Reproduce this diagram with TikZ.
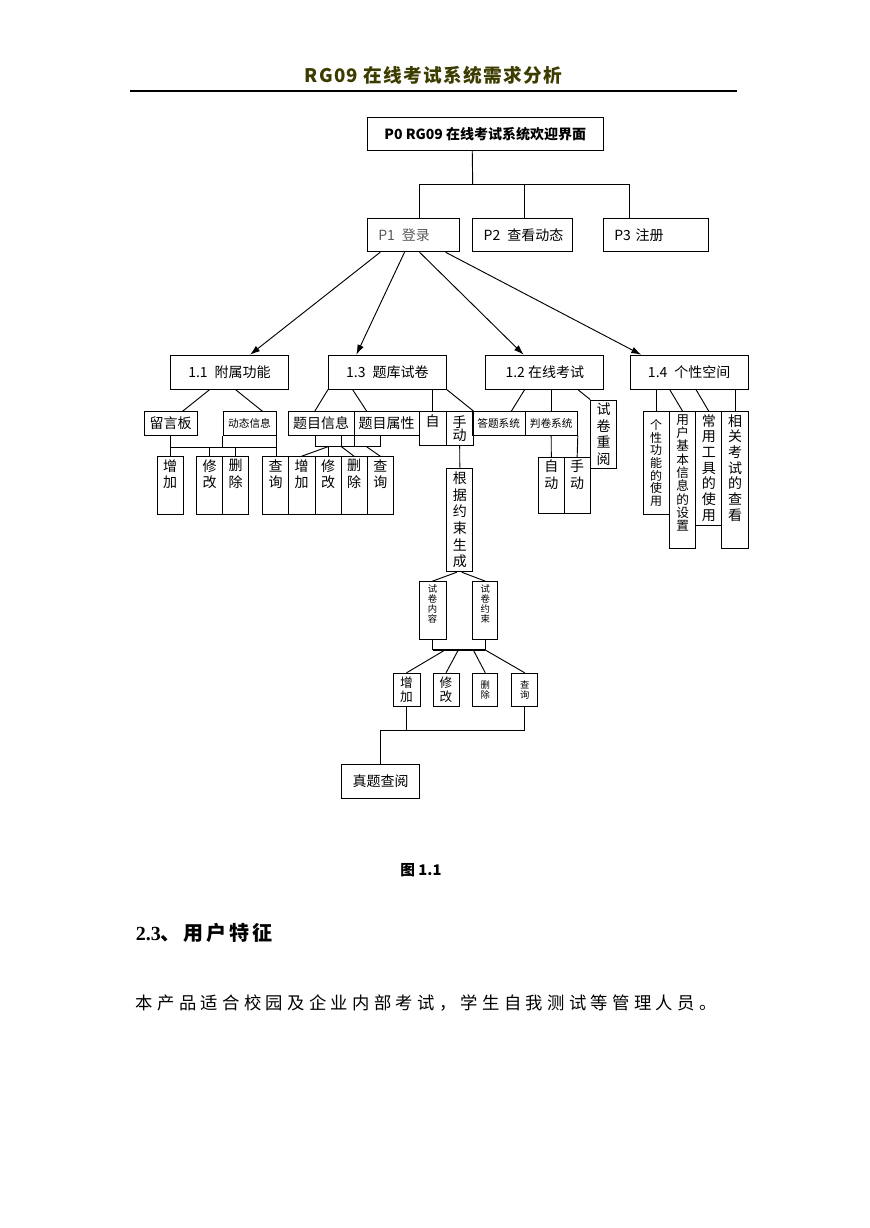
\documentclass[tikz,border=0pt]{standalone}
\usepackage{fontspec}
\setmainfont{Noto Sans CJK SC}
\newfontfamily\serifbf{Liberation Serif}
\usetikzlibrary{arrows.meta,calc}
\definecolor{titleolive}{RGB}{60,60,0}
\newcommand{\topcol}[2]{\parbox[c][#1][t]{1.2em}{\centering\vspace*{2pt}#2}}

\begin{document}
\begin{tikzpicture}[x=0.75pt,y=-0.75pt,line width=0.7pt,
    sz/.style 2 args={minimum width=#1*0.75pt,minimum height=#2*0.75pt},
    lefttxt/.style={text width=#1*0.75pt,align=left},
    smalltxt/.style={font=\fontsize{8}{9}\selectfont},
    tinytxt/.style={font=\fontsize{7}{7.5}\selectfont},
    midtxt/.style={font=\fontsize{9.5}{10.5}\selectfont},
    arr/.style={-{Latex[length=7.5pt,width=5pt]}}]
\useasboundingbox (0,0) rectangle (869,1228);

\node[font=\bfseries\fontsize{14}{16}\selectfont\addfontfeatures{LetterSpace=7},text=titleolive] (title) at (433.5,75) {RG09 在线考试系统需求分析};
\draw[line width=0.9pt] (130,91) -- (737,91);

\begin{scope}[every node/.style={draw,inner sep=0pt,align=center,font=\fontsize{10.5}{12.5}\selectfont}]
    \node[sz={236}{32.5}] (P0) at (485.3,133.8) {\textbf{P0 RG09 在线考试系统欢迎界面}};
    \node[sz={92}{33.3},lefttxt=70,text=black!65] (P1) at (413.3,235.1) {P1\enspace 登录};
    \node[sz={100}{33.3},lefttxt=78] (P2) at (522.7,235.1) {P2\enspace 查看动态};
    \node[sz={105}{33.3},lefttxt=83] (P3) at (655.8,235.1) {P3 注册};

    \node[sz={118}{34}] (n11) at (229.5,372.2) {1.1\enspace 附属功能};
    \node[sz={118}{34}] (n13) at (387.4,372.2) {1.3\enspace 题库试卷};
    \node[sz={118}{34}] (n12) at (544.8,372.2) {1.2 在线考试};
    \node[sz={118}{34}] (n14) at (689.2,372.2) {1.4\enspace 个性空间};

    \node[sz={53}{23.3}] (lyb) at (170.5,423.4) {留言板};
    \node[sz={53}{23.3},smalltxt] (dtxx) at (249.5,423.4) {动态信息};
    \node[sz={66}{23.3}] (tmxx) at (321.2,423.4) {题目信息};
    \node[sz={65}{23.3}] (tmsx) at (386.7,423.4) {题目属性};
    \node[sz={27}{34}] (zi) at (432.7,428.7) {\topcol{25.5pt}{自}};
    \node[sz={27}{34},font=\fontsize{10.5}{10}\selectfont] (sd) at (459.7,428.7) {手\\动};
    \node[sz={52.7}{23.3},smalltxt] (dtxt) at (498.7,423.4) {答题系统};
    \node[sz={52.3}{23.3},smalltxt] (pjxt) at (551.2,423.4) {判卷系统};
    \node[sz={26}{68.3}] (sjcy) at (603.7,434.2) {试\\卷\\重\\阅};

    \node[sz={26.3}{102.6},font=\fontsize{9}{9.5}\selectfont] (gxgn) at (656.2,463) {个\\性\\功\\能\\的\\使\\用};
    \node[sz={26.5}{136.6},font=\fontsize{9.5}{10}\selectfont] (yhjb) at (682.6,480) {\topcol{102.45pt}{用\\户\\基\\本\\信\\息\\的\\设\\置}};
    \node[sz={26}{113.8},font=\fontsize{10.5}{11.75}\selectfont] (cygj) at (708.8,468.6) {\topcol{85.35pt}{常\\用\\工\\具\\的\\使\\用}};
    \node[sz={26.6}{136.6},font=\fontsize{10.5}{11.75}\selectfont] (xgks) at (735.1,480) {\topcol{102.45pt}{相\\关\\考\\试\\的\\查\\看}};

    \node[sz={26}{57.3}] (a_zj) at (170,485.35) {\topcol{43pt}{增\\加}};
    \node[sz={25.5}{57.3}] (a_xg) at (209.5,485.35) {\topcol{43pt}{修\\改}};
    \node[sz={26.7}{57.3}] (a_sc) at (235.6,485.35) {\topcol{43pt}{删\\除}};
    \node[sz={25.6}{57.3}] (a_cx) at (275.5,485.35) {\topcol{43pt}{查\\询}};
    \node[sz={26.7}{57.3}] (b_zj) at (301.65,485.35) {\topcol{43pt}{增\\加}};
    \node[sz={26}{57.3}] (b_xg) at (328,485.35) {\topcol{43pt}{修\\改}};
    \node[sz={26}{57.3}] (b_sc) at (354,485.35) {\topcol{43pt}{删\\除}};
    \node[sz={26.5}{57.3}] (b_cx) at (380.25,485.35) {\topcol{43pt}{查\\询}};
    \node[sz={26}{56.7}] (zd) at (551.3,485.6) {\topcol{42.5pt}{自\\动}};
    \node[sz={25.7}{56.7}] (sd2) at (577.15,485.6) {\topcol{42.5pt}{手\\动}};

    \node[sz={26.3}{103.7}] (gjys) at (459.8,519.9) {根\\据\\约\\束\\生\\成};
    \node[sz={27}{57.3},tinytxt] (sjnr) at (432.5,610.3) {\topcol{43pt}{试\\卷\\内\\容}};
    \node[sz={25.3}{57.3},tinytxt] (sjys) at (485.3,610.3) {\topcol{43pt}{试\\卷\\约\\束}};
    \node[sz={27}{33.6},midtxt] (c_zj) at (406.5,690.1) {增\\加};
    \node[sz={26}{33.6},midtxt] (c_xg) at (446,690.1) {修\\改};
    \node[sz={25.3}{33.6},tinytxt] (c_sc) at (485.3,690.1) {删\\除};
    \node[sz={26.3}{33.6},tinytxt] (c_cx) at (524.8,690.1) {查\\询};
    \node[sz={77.6}{34}] (ztcy) at (380.5,781) {真题查阅};
\end{scope}

\begin{scope}
    % top levels
    \coordinate (j0) at (472.7,184.3);
    \draw ($(P0.south west)+(105.4,0)$) -- (j0);
    \draw ($(P1.north west)+(52.7,0)$) |- (j0) -| ($(P3.north west)+(26.7,0)$);
    \draw ($(P2.north west)+(52.3,0)$) -- ++(0,-34.2);
    \draw[arr] ($(P1.south west)+(13.4,0)$) -- ($(n11.north west)+(80,0)$);
    \draw[arr] ($(P1.south west)+(37.7,0)$) -- ($(n13.north west)+(28.4,0)$);
    \draw[arr] ($(P1.south west)+(52.7,0)$) -- ($(n12.north west)+(38.3,0)$);
    \draw[arr] ($(P1.south west)+(78.7,0)$) -- ($(n14.north west)+(11.5,0)$);

    % 1.1
    \coordinate (b11) at (0,447);
    \draw ($(n11.south west)+(39.5,0)$) -- ($(lyb.north west)+(39,0)$);
    \draw ($(n11.south west)+(65.5,0)$) -- ($(dtxx.north west)+(40,0)$);
    \draw (lyb.south -| a_zj) -- (a_zj.north);
    \draw (b11 -| a_zj) -- (b11 -| dtxx.south east);
    \draw (dtxx.south west) -- (b11 -| dtxx.south west);
    \draw (dtxx.south east) -- (a_cx.north -| dtxx.south east);
    \draw (b11 -| a_xg) -- (a_xg.north);
    \draw (b11 -| a_sc) -- (a_sc.north);

    % 1.3
    \coordinate (b13) at (0,446.7);
    \draw (n13.south west) -- ($(tmxx.north west)+(27,0)$);
    \draw ($(n13.south west)+(24.7,0)$) -- ($(tmsx.north west)+(13,0)$);
    \draw (n13.south -| zi) -- (zi.north);
    \draw (n13.south east) -- (sd.north east);
    \draw (tmxx.south -| b_zj.north east) |- (b13 -| b_cx) -- (tmsx.south -| b_cx);
    \draw (tmxx.south -| b_xg.north east) -- (b13 -| b_xg.north east);
    \draw (tmxx.south east) -- (b13 -| tmxx.south east);
    \draw (b13 -| b_xg) -- (b_zj.north);
    \draw (b13 -| b_xg) -- (b_xg.north);
    \draw (b13 -| b_xg.north east) -- (b_sc.north);
    \draw (b13 -| b_cx.north west) -- (b_cx.north);
    \draw (sd.south) -- (gjys.north);
    \draw ($(gjys.south)+(-3,0)$) -- (sjnr.north);
    \draw ($(gjys.south)+(2,0)$) -- (sjys.north);
    \coordinate (b4) at (0,650);
    \draw (sjnr.south) -- (b4 -| sjnr);
    \draw (sjys.south) -- (b4 -| sjys);
    \draw[line width=1.6pt] (b4 -| sjnr) -- (b4 -| sjys);
    \draw ($(b4 -| sjnr)+(12.5,0)$) -- (c_zj.north);
    \draw ($(b4 -| sjnr)+(25.8,0)$) -- (c_xg.north);
    \draw ($(b4 -| sjnr)+(40.8,0)$) -- (c_sc.north);
    \draw (b4 -| sjys) -- (c_cx.north);
    \coordinate (b5) at (0,730);
    \draw (c_zj.south) -- (b5 -| c_zj);
    \draw (c_cx.south) |- (b5 -| ztcy) -- (ztcy.north);

    % 1.2
    \draw ($(n12.south west)+(39.3,0)$) -- ($(dtxt.north west)+(39.4,0)$);
    \draw (n12.south -| pjxt) -- (pjxt.north);
    \draw (pjxt.south) -- (zd.north);
    \draw (pjxt.south east) -- (sd2.north);
    \draw ($(n12.south west)+(92.6,0)$) -- (sjcy.north west);

    % 1.4
    \draw (n14.south -| gxgn) -- (gxgn.north);
    \draw ($(n14.south west)+(40,0)$) -- (yhjb.north);
    \draw ($(n14.south west)+(66.3,0)$) -- (cygj.north);
    \draw (n14.south -| xgks) -- (xgks.north);
\end{scope}

\node[font=\bfseries\fontsize{11}{13}\selectfont] (fig) at (421,870) {图 1.1};
\node[anchor=west,font=\bfseries\fontsize{15}{18}\selectfont\addfontfeatures{LetterSpace=15}] (sec) at (131,933) {{\serifbf\bfseries 2.3}、用户特征};
\node[anchor=west,font=\fontsize{13}{16}\selectfont\addfontfeatures{LetterSpace=25}] (body) at (131,1003) {本产品适合校园及企业内部考试，学生自我测试等管理人员。};
\end{tikzpicture}
\end{document}
